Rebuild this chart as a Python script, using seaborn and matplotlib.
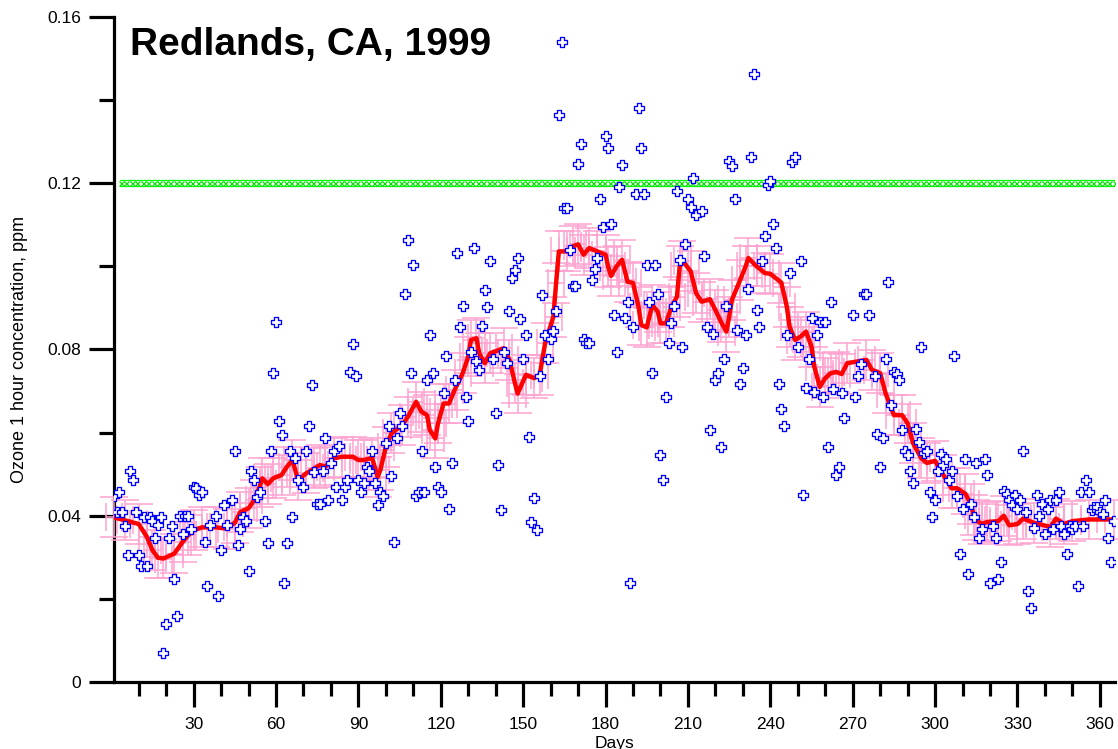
import matplotlib
matplotlib.use("Agg")
import matplotlib.pyplot as plt
import seaborn as sns
import pandas as pd
import numpy as np
from matplotlib.ticker import FixedLocator, MultipleLocator

# ---------------- data ----------------
title_text = "Redlands, CA, 1999"
x_label = "Days"
y_label = "Ozone 1 hour concentration, ppm"

obs_days = [
    1, 2, 3, 4, 5, 6, 7, 8, 9, 10, 11, 12, 13, 14, 15, 16, 17, 18, 19, 20, 21, 22, 23, 24, 25,
    26, 27, 28, 29, 30, 31, 32, 33, 34, 35, 36, 38, 39, 40, 41, 42, 44, 45, 46, 47,
    48, 49, 50, 51, 52, 53, 54, 56, 57, 58, 59, 60, 61, 62, 63, 64, 65, 66, 67, 68, 70, 71, 72,
    73, 74, 75, 76, 77, 78, 79, 80, 81, 82, 83, 84, 85, 86, 87, 88, 89, 90, 91,
    92, 93, 94, 95, 96, 97, 98, 99, 100, 101, 102, 103, 104, 105, 106, 107, 108, 109, 110, 111,
    112, 113, 114, 115, 116, 117, 118, 119, 120, 121, 122, 123, 124, 125, 126, 127, 128, 129,
    130, 131, 132, 133, 134,
    135, 136, 137, 138, 139, 140, 141, 142, 143, 144, 145, 146, 147, 148, 149, 150, 151, 152,
    153, 154, 155, 156, 157, 158, 159, 160, 161, 162, 163, 164, 165, 166, 167, 168, 169, 170,
    171, 172, 173, 174, 175, 176, 177, 178,
    179, 180, 181, 182, 183, 184, 185, 186, 187, 188, 189, 190, 191, 192, 193, 194, 195, 196,
    197, 198, 199, 200, 201, 202, 203, 204, 205, 206, 207, 208, 209, 210, 211, 212, 213, 215,
    216, 217, 218, 219, 220, 221, 222,
    223, 224, 225, 226, 227, 228, 229, 230, 231, 232, 233, 234, 235, 236, 237, 238, 239, 240,
    241, 242, 243, 244, 245, 246, 247, 248, 249, 250, 251, 252, 253, 254, 255, 256, 257, 258,
    259, 260, 261, 262, 263, 264, 265,
    266, 267, 270, 271, 272, 273, 274, 275, 276, 278, 279, 280, 281, 282, 283, 284, 285, 286,
    287, 288, 289, 290, 291, 292, 293, 294, 295, 296, 297, 298, 299, 300, 301, 302, 303, 304,
    305, 306, 307, 308, 309,
    310, 311, 312, 313, 314, 315, 316, 317, 318, 319, 320, 321, 322, 323, 324, 325, 326, 327,
    328, 329, 330, 331, 332, 333, 334, 335, 336, 337, 338, 339, 340, 341, 342, 343, 344, 345,
    346, 347, 348, 349, 350, 351, 352, 353, 354, 355, 356, 357, 358, 359, 360, 361, 362, 363,
    364, 365,
]
obs_ppm = [
    .0447, .0409, .0457, .0409, .0376, .0306, .0507, .0486, .0409, .0306, .0278, .0397, .0278,
    .0397, .0387, .0347, .0377, .0397, .0070, .0139, .0347, .0376, .0248, .0159, .0399,
    .0357, .0399, .0399, .0369, .0469, .0466, .0449, .0457, .0337, .0231, .0377, .0399, .0208,
    .0318, .0427, .0377, .0437, .0555, .0329, .0369,
    .0397, .0387, .0267, .0507, .0486, .0445, .0457, .0387, .0335, .0555, .0744, .0865, .0627,
    .0595, .0237, .0335, .0555, .0397, .0540, .0486, .0468, .0555, .0616,
    .0715, .0505, .0428, .0428, .0507, .0588, .0437, .0526, .0555, .0468, .0567, .0437, .0468,
    .0486, .0746, .0814, .0736, .0486, .0457,
    .0478, .0518, .0507, .0555, .0478, .0427, .0457, .0448, .0576, .0616, .0496, .0336, .0588,
    .0646, .0616, .0934, .1064, .0744, .1004, .0448,
    .0458, .0555, .0457, .0726, .0835, .0744, .0518, .0468, .0457, .0696, .0784, .0416, .0526,
    .0726, .1033, .0853, .0905, .0686,
    .0628, .0795, .1043, .0772, .0750,
    .0857, .0943, .0903, .1012, .0777, .0648, .0522, .0413, .0793, .0767, .0893, .0972, .0992,
    .1021, .0874, .0777, .0836, .0590,
    .0385, .0443, .0365, .0736, .0931, .0836, .0777, .0825, .0845, .0893, .1363, .1539, .1140,
    .1140, .1040, .0953, .0953, .1247,
    .1295, .0825, .0815, .0815, .0966, .0993, .1021, .1163,
    .1094, .1313, .1284, .1102, .0883, .0795, .1192, .1244, .0875, .0915, .0237, .0855, .1175,
    .1382, .1284, .1175, .1004, .0915,
    .0744, .1004, .0934, .0547, .0486, .0686, .0815, .0863, .0905, .1182, .1016, .0805, .1054,
    .1163, .1143, .1212, .1124, .1134,
    .1025, .0855, .0606, .0837, .0727, .0744, .0566,
    .0776, .0905, .1253, .1242, .1163, .0847, .0716, .0755, .0835, .0945, .1262, .1462, .0894,
    .0853, .1014, .1073, .1196, .1206,
    .1102, .1043, .0716, .0656, .0616, .0835, .0985, .1251, .1263, .0807, .1014, .0449, .0708,
    .0776, .0875, .0697, .0835, .0865,
    .0686, .0865, .0566, .0914, .0705, .0497, .0518,
    .0696, .0636, .0883, .0686, .0736, .0764, .0934, .0934, .0883, .0736, .0596, .0518, .0586,
    .0776, .0963, .0666, .0746, .0740,
    .0727, .0606, .0556, .0546, .0507, .0478, .0608, .0577, .0805, .0550, .0556, .0457, .0397,
    .0437, .0507, .0548, .0522, .0536,
    .0487, .0507, .0784, .0447, .0307,
    .0416, .0536, .0259, .0428, .0397, .0526, .0347, .0368, .0536, .0497, .0238, .0376, .0347,
    .0248, .0288, .0460, .0452, .0437,
    .0425, .0449, .0417, .0439, .0555, .0409, .0219, .0179, .0370, .0449, .0399, .0428, .0357,
    .0417, .0439, .0368, .0439, .0457,
    .0376, .0357, .0307, .0376, .0367, .0376, .0230, .0457, .0376, .0486, .0457, .0413, .0420,
    .0420, .0409, .0405, .0439, .0347,
    .0288, .0387,
]

smooth_days = [
    1, 5, 10, 13, 15, 17, 19, 23, 26, 28, 30, 33, 38, 42, 45, 47, 50, 52, 54, 55, 57, 59, 62,
    64, 66, 68, 71, 74, 76, 78, 81, 84, 88, 90, 92, 95, 97, 98, 100, 102, 106, 108, 111, 113,
    115, 116, 118, 119, 121, 123, 125, 128, 130, 131, 133, 134, 136, 138, 143, 145, 147, 148,
    151, 154, 156, 158, 161, 162, 163, 166, 168, 170, 172, 174, 177, 180, 181, 182, 184, 186,
    188, 190, 192, 193, 195, 197, 199, 200, 202, 204, 206, 207, 208, 211, 213, 215, 218, 220,
    222, 224, 225, 226, 229, 231, 232, 235, 238, 240, 244, 246, 247, 249, 251, 253, 255, 256,
    258, 260, 262, 264, 266, 268, 275, 277, 280, 282, 285, 288, 290, 292, 295, 297, 300, 303,
    306, 308, 311, 313, 314, 315, 317, 319, 323, 325, 327, 330, 332, 336, 342, 344, 347, 350,
    356, 365,
]
smooth_ppm = [
    .0396, .0389, .0380, .0349, .0317, .0299, .0297, .0309, .0337, .0353, .0365, .0372, .0372,
    .0369, .0383, .0409, .0418, .0437, .0469, .0490, .0476, .0490, .0498,
    .0518, .0534, .0486, .0502, .0514, .0522, .0518, .0538, .0542, .0542, .0534, .0534, .0539,
    .0493, .0510, .0566, .0598, .0618, .0638, .0674, .0650,
    .0642, .0606, .0586, .0622, .0670, .0670, .0702, .0743, .0783, .0823, .0827, .0791, .0767,
    .0791, .0803, .0775, .0719, .0694,
    .0739, .0731, .0739, .0815, .0879, .0960, .1036, .1036, .1048, .1053, .1028, .1044, .1036,
    .1028, .0998, .0977, .1000, .1016,
    .0963, .0960, .0903, .0859, .0853, .0907, .0891, .0863, .0863, .0903, .0927, .1000, .1014,
    .0988, .0935, .0915, .0921, .0895,
    .0867, .0843, .0879, .0919, .0967, .1000, .1020, .1000, .0984, .0982, .0961, .0903, .0855,
    .0823, .0831, .0843, .0807, .0759,
    .0710, .0731, .0743, .0746, .0741, .0767, .0775, .0751, .0743, .0694, .0642, .0642, .0622,
    .0574, .0538, .0527, .0532, .0498,
    .0466, .0466, .0453, .0429, .0401, .0389, .0380, .0385, .0387, .0400, .0377, .0380, .0393,
    .0383, .0373, .0393, .0380, .0387,
    .0391, .0391,
]
smooth_err_ppm = 0.0048      # vertical uncertainty of the running mean
smooth_err_days = 3          # horizontal uncertainty (days)
standard_ppm = 0.12          # 1-hour ozone standard

x_major_ticks = [30, 60, 90, 120, 150, 180, 210, 240, 270, 300, 330, 360]
y_major_ticks = [0, 0.04, 0.08, 0.12, 0.16]
y_tick_labels = ["0", "0.04", "0.08", "0.12", "0.16"]

obs = pd.DataFrame({"day": obs_days, "ppm": obs_ppm})
smooth = pd.DataFrame({"day": smooth_days, "ppm": smooth_ppm})

# ---------------- style ----------------
sns.set_style("ticks")
plt.rcParams["font.family"] = ["Liberation Sans", "DejaVu Sans"]
plt.rcParams["text.color"] = "black"
plt.rcParams["axes.labelcolor"] = "black"
plt.rcParams["xtick.color"] = "black"
plt.rcParams["ytick.color"] = "black"

fig = plt.figure(figsize=(11.18, 7.49), dpi=100)
ax = fig.add_axes([0.1022, 0.0895, 0.8951, 0.8878])

# standard line (band of x marks)
ax.axhline(standard_ppm + 0.0007, xmin=0.006, xmax=1, color="#00ff00", lw=0.9, zorder=2)
ax.axhline(standard_ppm - 0.0007, xmin=0.006, xmax=1, color="#00ff00", lw=0.9, zorder=2)
mark_x = np.arange(3.5, 366, 2.0)
ax.plot(mark_x, np.full(mark_x.shape, standard_ppm), ls="none", marker="x",
        ms=3.6, mew=0.9, color="#00e000", zorder=2)

# pink error bars on the running mean
ax.errorbar(smooth["day"], smooth["ppm"], yerr=smooth_err_ppm, xerr=smooth_err_days,
            fmt="none", ecolor="#ffa3d0", elinewidth=1.1, capsize=10, capthick=1.1,
            zorder=3, clip_on=False)

# red running mean
sns.lineplot(data=smooth, x="day", y="ppm", ax=ax, color="#ff0000", lw=3.2,
             zorder=4, sort=True)

# blue daily observations
sns.scatterplot(data=obs, x="day", y="ppm", ax=ax, marker="P", s=42,
                facecolor="white", edgecolor="#0000ff", linewidth=0.95, zorder=5)

# ---------------- axes ----------------
ax.set_xlim(1.1, 365.5)
ax.set_ylim(0, 0.16)
for side in ("top", "right"):
    ax.spines[side].set_visible(False)
for side in ("left", "bottom"):
    ax.spines[side].set_linewidth(2.3)
    ax.spines[side].set_color("black")

ax.xaxis.set_major_locator(FixedLocator(x_major_ticks))
ax.xaxis.set_minor_locator(MultipleLocator(10))
ax.yaxis.set_major_locator(FixedLocator(y_major_ticks))
ax.set_yticklabels(y_tick_labels)
ax.yaxis.set_minor_locator(MultipleLocator(0.02))

ax.tick_params(axis="x", which="major", direction="out", length=18, width=2.3,
               labelsize=12.5, pad=7, color="black", labelcolor="black")
ax.tick_params(axis="x", which="minor", direction="out", length=10, width=2.3, color="black")
ax.tick_params(axis="y", which="major", direction="out", length=18, width=2.3,
               labelsize=12.5, pad=6, color="black", labelcolor="black")
ax.tick_params(axis="y", which="minor", direction="out", length=11, width=2.3, color="black")

ax.set_xlabel(x_label, fontsize=12.5, color="black")
ax.set_ylabel(y_label, fontsize=13, color="black")
ax.xaxis.set_label_coords(0.5, -0.081)
ax.yaxis.set_label_coords(-0.086, 0.5)

ax.text(0.0157, 0.9429, title_text, transform=ax.transAxes, fontsize=28,
        fontweight="bold", ha="left", va="baseline", color="black", zorder=6)

fig.savefig("out.png", dpi=100)
